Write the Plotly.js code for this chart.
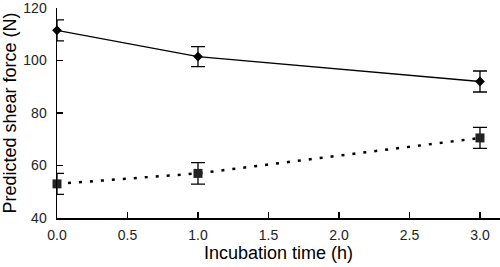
<!DOCTYPE html>
<html><head><meta charset="utf-8">
<script src="https://cdn.plot.ly/plotly-3.0.1.min.js"></script>
<style>html,body{margin:0;padding:0;background:#fff}#chart{width:500px;height:267px}</style>
</head><body><div id="chart"></div>
<script>
const times = [0, 1, 3];
const diamondValues = [111.5, 101.5, 92];
const diamondErrors = [4, 3.8, 4];
const squareValues = [53, 57, 70.5];
const squareErrors = [4, 4.1, 4];
const xTicks = [0, 0.5, 1, 1.5, 2, 2.5, 3];
const xTickLabels = ['0.0', '0.5', '1.0', '1.5', '2.0', '2.5', '3.0'];
const yTicks = [40, 60, 80, 100, 120];

const font = 'Liberation Sans, Arial, Helvetica, sans-serif';
const traces = [
  {
    x: times, y: diamondValues, type: 'scatter', mode: 'lines+markers',
    line: {color: '#000', width: 1.3},
    marker: {symbol: 'diamond', size: 7.5, color: '#000'},
    error_y: {type: 'data', array: diamondErrors, visible: true, color: '#000', thickness: 1.3, width: 7},
    cliponaxis: false, showlegend: false
  },
  {
    x: times, y: squareValues, type: 'scatter', mode: 'lines+markers',
    line: {color: '#000', width: 2.5, dash: '3px,8px'},
    marker: {symbol: 'square', size: 9, color: '#222'},
    error_y: {type: 'data', array: squareErrors, visible: true, color: '#000', thickness: 1.3, width: 7},
    cliponaxis: false, showlegend: false
  }
];
const layout = {
  width: 500, height: 267,
  margin: {l: 57, r: 0, t: 8, b: 49},
  paper_bgcolor: '#fff', plot_bgcolor: '#fff',
  font: {family: font, color: '#000', size: 14},
  xaxis: {
    range: [0, 3.142], tickvals: xTicks, ticktext: xTickLabels,
    ticks: 'inside', ticklen: 6, tickwidth: 1.3, tickcolor: '#000',
    showline: true, linecolor: '#000', linewidth: 1.5,
    showgrid: false, zeroline: false, ticklabelstandoff: 4,
    ticklabeloverflow: 'allow',
    tickfont: {size: 14, color: '#222'},
    title: {text: 'Incubation time (h)', font: {size: 18, color: '#000'}, standoff: 4}
  },
  yaxis: {
    range: [40, 120], tickvals: yTicks,
    ticks: 'inside', ticklen: 6, tickwidth: 1.3, tickcolor: '#000',
    showline: true, linecolor: '#000', linewidth: 1.5,
    showgrid: false, zeroline: false, ticklabelstandoff: 6,
    ticklabeloverflow: 'allow',
    tickfont: {size: 14, color: '#222'},
    title: {text: 'Predicted shear force (N)', font: {size: 18, color: '#000'}, standoff: 4}
  }
};
Plotly.newPlot('chart', traces, layout, {staticPlot: true, displayModeBar: false});
</script></body></html>
